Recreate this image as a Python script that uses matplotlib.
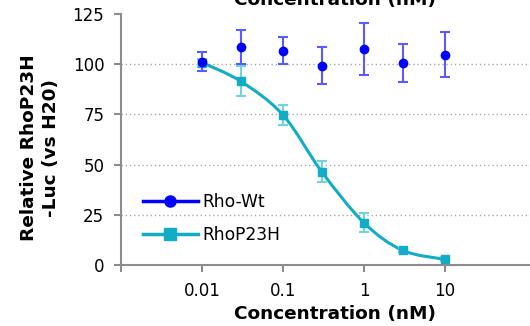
"""
plot.py
Dose response of Rho-Wt and RhoP23H luciferase signal versus concentration.
"""

import numpy as np
import matplotlib.pyplot as plt
from matplotlib.lines import Line2D
from matplotlib.path import Path
from matplotlib.patches import PathPatch

# ------------------------------------------------------------------------
# Data
# ------------------------------------------------------------------------
conc = [0.01, 0.03, 0.1, 0.3, 1, 3, 10]

wt_mean = [101.2, 108.5, 106.8, 99.2, 107.7, 100.7, 104.8]
wt_err = [4.7, 8.5, 6.7, 9.2, 13.0, 9.5, 11.2]

p23h_mean = [100.8, 91.5, 74.7, 46.5, 21.0, 7.3, 2.8]
p23h_err = [2.0, 7.5, 5.0, 5.3, 4.8, 1.0, 1.0]

x_ticks = [0.001, 0.01, 0.1, 1, 10]
x_tick_labels = ["", "0.01", "0.1", "1", "10"]
y_ticks = [0, 25, 50, 75, 100, 125]

BLUE = "#0000ff"
BLUE_ERR = "#5a5aff"
CYAN = "#12adc5"
CYAN_ERR = "#6fd3e0"
GREY = "#8c8c8c"


# ------------------------------------------------------------------------
# Smoothed line through the points (bezier segments, like a spreadsheet)
# ------------------------------------------------------------------------
def smooth_path(xs, ys):
    lx = np.log10(xs)
    ys = np.asarray(ys, dtype=float)
    n = len(lx)
    verts = [(xs[0], ys[0])]
    codes = [Path.MOVETO]
    for i in range(n - 1):
        i0 = max(i - 1, 0)
        i3 = min(i + 2, n - 1)
        c1x = lx[i] + (lx[i + 1] - lx[i0]) / 6
        c1y = ys[i] + (ys[i + 1] - ys[i0]) / 6
        c2x = lx[i + 1] - (lx[i3] - lx[i]) / 6
        c2y = ys[i + 1] - (ys[i3] - ys[i]) / 6
        verts += [(10 ** c1x, c1y), (10 ** c2x, c2y), (xs[i + 1], ys[i + 1])]
        codes += [Path.CURVE4] * 3
    return Path(verts, codes)


fig = plt.figure(figsize=(5.30, 3.26), dpi=100)
ax = fig.add_axes([121 / 530, 61 / 326, 409 / 530, 251 / 326])

# RhoP23H: smoothed curve + error bars + square markers
curve = PathPatch(smooth_path(conc, p23h_mean), facecolor="none",
                  edgecolor=CYAN, lw=2.2, zorder=3)
ax.add_patch(curve)
ax.errorbar(conc, p23h_mean, yerr=p23h_err, fmt="s", color=CYAN,
            ecolor=CYAN_ERR, elinewidth=1.5, capsize=3.5, capthick=1.5,
            markersize=5.5, zorder=4)

# Rho-Wt: markers + error bars only
ax.errorbar(conc, wt_mean, yerr=wt_err, fmt="o", color=BLUE,
            ecolor=BLUE_ERR, elinewidth=1.5, capsize=3.5, capthick=1.5,
            markersize=6, zorder=5)

ax.set_xscale("log")
ax.set_xlim(0.001, 10 ** ((530 - 121) / 81 - 3))
ax.set_ylim(0, 125)
ax.set_xticks(x_ticks)
ax.set_xticklabels(x_tick_labels)
ax.xaxis.set_minor_locator(plt.NullLocator())
ax.set_yticks(y_ticks)

ax.tick_params(axis="both", colors=GREY, labelcolor="black", labelsize=12,
               length=5, width=1.5, direction="out")
ax.tick_params(axis="y", pad=7)
ax.tick_params(axis="x", pad=7)

for side in ["top", "right"]:
    ax.spines[side].set_visible(False)
for side in ["left", "bottom"]:
    ax.spines[side].set_color(GREY)
    ax.spines[side].set_linewidth(1.5)

ax.grid(axis="y", color="#a8a8a8", linestyle=(0, (1, 2)), lw=1)
ax.yaxis.get_gridlines()[0].set_visible(False)
ax.yaxis.get_gridlines()[-1].set_visible(False)
ax.set_axisbelow(True)

# legend with line + marker handles
handles = [
    Line2D([], [], color=BLUE, lw=2.5, marker="o", markersize=8),
    Line2D([], [], color=CYAN, lw=2.5, marker="s", markersize=8),
]
ax.legend(handles, ["Rho-Wt", "RhoP23H"], loc="upper left",
          bbox_to_anchor=(0.054, 0.285), borderaxespad=0, borderpad=0,
          frameon=False, fontsize=12.3, handlelength=3.2,
          handletextpad=0.25, labelspacing=0.85)

# labels
fig.text(40 / 530, 1 - 148 / 326, "Relative RhoP23H\n-Luc (vs H20)",
         rotation=90, ha="center", va="center", fontsize=13.3,
         fontweight="bold", multialignment="center", linespacing=1.35)
fig.text(335 / 530, 1 - 319 / 326, "Concentration (nM)", ha="center",
         va="baseline", fontsize=13.3, fontweight="bold")
fig.text(335 / 530, 1 - 5 / 326, "Concentration (nM)", ha="center",
         va="baseline", fontsize=13.3, fontweight="bold")

plt.savefig("out.png", dpi=100)
